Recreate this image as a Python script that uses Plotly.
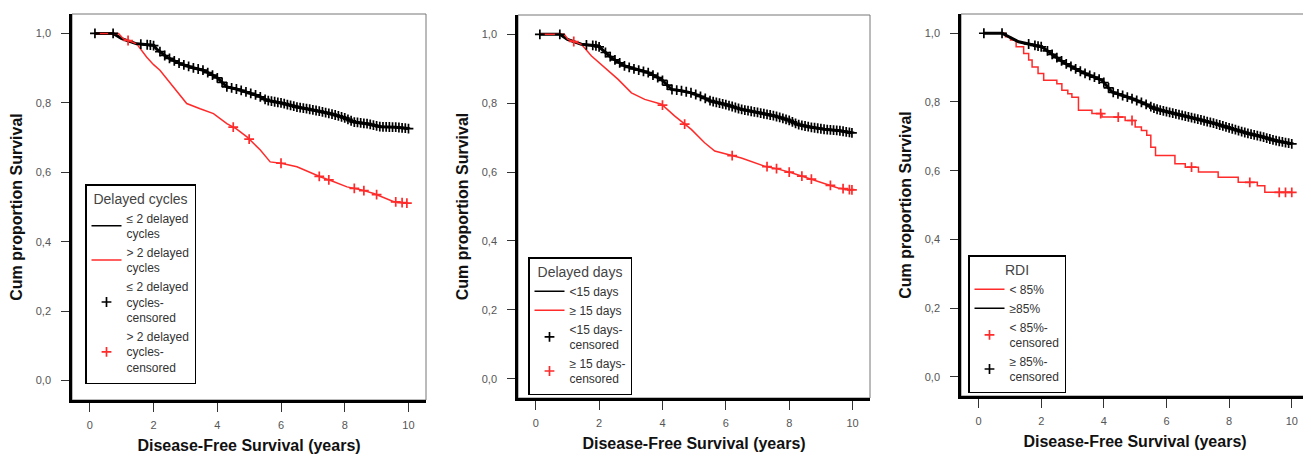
import numpy as np
import plotly.graph_objects as go

# ---------------- Data ----------------
# Panel 1: Delayed cycles
p1_low_t = [0.16, 0.73, 1.0, 1.47, 1.99, 2.1, 2.41, 2.83, 3.2, 3.56, 3.98, 4.30, 4.6, 4.93, 5.3,
            5.56, 6.0, 6.50, 7.0, 7.55, 8.0, 8.28, 8.7, 9.12, 9.6, 10.0]
p1_low_s = [1.0, 1.0, 0.985, 0.970, 0.966, 0.955, 0.932, 0.913, 0.902, 0.894, 0.874, 0.846, 0.840,
            0.831, 0.820, 0.807, 0.800, 0.788, 0.780, 0.769, 0.757, 0.745, 0.740, 0.731, 0.730, 0.726]
p1_high_t = [0.16, 0.9, 1.05, 1.47, 1.78, 2.0, 2.20, 2.62, 3.04, 3.46, 3.88, 4.30, 4.6, 4.93, 5.35,
             5.66, 6.0, 6.50, 7.23, 7.6, 8.07, 8.5, 8.91, 9.54, 10.0]
p1_high_s = [1.0, 1.0, 0.985, 0.970, 0.932, 0.910, 0.894, 0.846, 0.798, 0.783, 0.769, 0.740, 0.725,
             0.702, 0.664, 0.630, 0.626, 0.616, 0.587, 0.575, 0.558, 0.550, 0.539, 0.515, 0.511]
p1_low_cens = [0.16, 0.73, 1.6, 1.8, 1.9, 2.0, 2.2, 2.35, 2.5, 2.65, 2.8, 2.95, 3.1, 3.25, 3.4, 3.55,
               3.7, 3.85, 4.0, 4.15, 4.3, 4.45, 4.6, 4.75, 4.9, 5.05, 5.2, 5.35, 5.5, 5.6, 5.7, 5.8,
               5.9, 6.0, 6.1, 6.2, 6.3, 6.4, 6.5, 6.6, 6.7, 6.8, 6.9, 7.0, 7.1, 7.2, 7.3, 7.4, 7.5,
               7.6, 7.7, 7.8, 7.9, 8.0, 8.1, 8.2, 8.3, 8.4, 8.5, 8.6, 8.7, 8.8, 8.9, 9.0, 9.1, 9.2,
               9.3, 9.4, 9.5, 9.6, 9.7, 9.8, 9.9, 10.0]
p1_high_cens = [1.2, 4.5, 5.0, 6.0, 7.2, 7.5, 8.3, 8.6, 9.0, 9.6, 9.8, 9.95]

# Panel 2: Delayed days
p2_low_t = [0.13, 0.76, 1.0, 1.44, 1.97, 2.1, 2.39, 2.81, 3.2, 3.54, 3.97, 4.28, 4.6, 4.91, 5.2,
            5.54, 6.0, 6.49, 7.0, 7.54, 8.0, 8.27, 8.7, 9.12, 9.6, 9.98]
p2_low_s = [1.0, 1.0, 0.985, 0.971, 0.966, 0.955, 0.932, 0.908, 0.897, 0.889, 0.869, 0.840, 0.836,
            0.830, 0.820, 0.806, 0.796, 0.782, 0.773, 0.763, 0.750, 0.738, 0.730, 0.724, 0.720, 0.714]
p2_high_t = [0.13, 0.9, 1.02, 1.44, 1.76, 2.18, 2.60, 3.02, 3.44, 3.97, 4.38, 4.91, 5.33, 5.65,
             6.0, 6.49, 7.22, 7.6, 8.07, 8.5, 8.91, 9.54, 9.98]
p2_high_s = [1.0, 1.0, 0.985, 0.971, 0.937, 0.903, 0.869, 0.830, 0.811, 0.797, 0.763, 0.724, 0.685,
             0.661, 0.652, 0.641, 0.617, 0.610, 0.598, 0.585, 0.574, 0.554, 0.548]
p2_low_cens = [0.13, 0.76, 1.6, 1.8, 1.9, 2.0, 2.2, 2.35, 2.5, 2.65, 2.8, 2.95, 3.1, 3.25, 3.4, 3.55,
               3.7, 3.85, 4.0, 4.15, 4.3, 4.45, 4.6, 4.75, 4.9, 5.05, 5.2, 5.35, 5.5, 5.6, 5.7, 5.8,
               5.9, 6.0, 6.1, 6.2, 6.3, 6.4, 6.5, 6.6, 6.7, 6.8, 6.9, 7.0, 7.1, 7.2, 7.3, 7.4, 7.5,
               7.6, 7.7, 7.8, 7.9, 8.0, 8.1, 8.2, 8.3, 8.4, 8.5, 8.6, 8.7, 8.8, 8.9, 9.0, 9.1, 9.2,
               9.3, 9.4, 9.5, 9.6, 9.7, 9.8, 9.9, 9.98]
p2_high_cens = [1.2, 4.0, 4.7, 6.2, 7.3, 7.6, 8.0, 8.4, 8.7, 9.3, 9.7, 9.9, 9.98]

# Panel 3: RDI
p3_low_t = [0.17, 0.86, 1.02, 1.2, 1.44, 1.6, 1.71, 1.9, 2.08, 2.5, 2.66, 2.85, 2.98, 3.19, 3.62,
            3.94, 4.68, 5.0, 5.2, 5.37, 5.5, 5.65, 6.27, 6.6, 7.02, 7.65, 8.29, 8.9, 9.14, 10.0]
p3_low_s = [1.0, 0.990, 0.980, 0.961, 0.941, 0.922, 0.902, 0.883, 0.863, 0.853, 0.834, 0.824, 0.814,
            0.776, 0.766, 0.756, 0.746, 0.727, 0.717, 0.703, 0.668, 0.644, 0.620, 0.610, 0.596,
            0.581, 0.566, 0.556, 0.537, 0.537]
p3_high_t = [0.17, 0.75, 1.28, 2.03, 2.4, 2.77, 3.30, 3.94, 4.26, 4.89, 5.3, 5.64, 6.49, 7.0, 7.55,
             8.1, 8.61, 9.0, 9.46, 10.0]
p3_high_s = [1.0, 1.0, 0.975, 0.960, 0.935, 0.912, 0.887, 0.863, 0.829, 0.810, 0.795, 0.780, 0.761,
             0.750, 0.737, 0.722, 0.708, 0.700, 0.688, 0.678]
p3_low_cens = [3.9, 4.46, 4.9, 6.8, 8.66, 9.6, 9.8, 10.0]
p3_high_cens = [0.17, 0.75, 1.6, 1.8, 1.9, 2.0, 2.2, 2.35, 2.5, 2.65, 2.8, 2.95, 3.1, 3.25, 3.4, 3.55,
                3.7, 3.85, 4.0, 4.15, 4.3, 4.45, 4.6, 4.75, 4.9, 5.05, 5.2, 5.35, 5.5, 5.6, 5.7, 5.8,
                5.9, 6.0, 6.1, 6.2, 6.3, 6.4, 6.5, 6.6, 6.7, 6.8, 6.9, 7.0, 7.1, 7.2, 7.3, 7.4, 7.5,
                7.6, 7.7, 7.8, 7.9, 8.0, 8.1, 8.2, 8.3, 8.4, 8.5, 8.6, 8.7, 8.8, 8.9, 9.0, 9.1, 9.2,
                9.3, 9.4, 9.5, 9.6, 9.7, 9.8, 9.9, 10.0]

x_ticks = [0, 2, 4, 6, 8, 10]
y_ticks = [0.0, 0.2, 0.4, 0.6, 0.8, 1.0]

RED = "#ff2a2a"
BLACK = "#000000"
FONT = "Liberation Sans, Arial, sans-serif"

# page has an 8px body margin; work in window pixels and shift
OFF = 8
W, H = 1311 - OFF, 456 - OFF


def on_line(t, s, tc):
    return list(np.interp(tc, t, s))


def on_step(t, s, tc):
    t = np.asarray(t)
    idx = np.searchsorted(t, np.asarray(tc), side="right") - 1
    idx = np.clip(idx, 0, len(s) - 1)
    return [s[i] for i in idx]


fig = go.Figure()

panels = [
    dict(ax="", legend="legend",
         lines=[(p1_low_t, p1_low_s, BLACK, "≤ 2 delayed<br>cycles", "linear"),
                (p1_high_t, p1_high_s, RED, "> 2 delayed<br>cycles", "linear")],
         cens=[(p1_low_t, p1_low_s, p1_low_cens, BLACK, "≤ 2 delayed<br>cycles-<br>censored", "linear"),
               (p1_high_t, p1_high_s, p1_high_cens, RED, "> 2 delayed<br>cycles-<br>censored", "linear")]),
    dict(ax="2", legend="legend2",
         lines=[(p2_low_t, p2_low_s, BLACK, "<15 days", "linear"),
                (p2_high_t, p2_high_s, RED, "≥ 15 days", "linear")],
         cens=[(p2_low_t, p2_low_s, p2_low_cens, BLACK, "<15 days-<br>censored", "linear"),
               (p2_high_t, p2_high_s, p2_high_cens, RED, "≥ 15 days-<br>censored", "linear")]),
    dict(ax="3", legend="legend3",
         lines=[(p3_low_t, p3_low_s, RED, "< 85%", "hv"),
                (p3_high_t, p3_high_s, BLACK, "≥85%", "linear")],
         cens=[(p3_low_t, p3_low_s, p3_low_cens, RED, "< 85%-<br>censored", "hv"),
               (p3_high_t, p3_high_s, p3_high_cens, BLACK, "≥ 85%-<br>censored", "linear")]),
]

for p in panels:
    xa, ya = "x" + p["ax"], "y" + p["ax"]
    for t, s, col, name, shape in p["lines"]:
        if col == BLACK:
            # thick band (dense censor ticks look) drawn without legend entry
            fig.add_trace(go.Scatter(x=t, y=s, mode="lines", showlegend=False, hoverinfo="skip",
                                     line=dict(color=col, width=3.0, shape=shape), xaxis=xa, yaxis=ya))
        fig.add_trace(go.Scatter(x=t, y=s, mode="lines", name=name, line=dict(color=col, width=1.5, shape=shape),
                                 xaxis=xa, yaxis=ya, legend=p["legend"]))
    for t, s, tc, col, name, shape in p["cens"]:
        ys = on_step(t, s, tc) if shape == "hv" else on_line(t, s, tc)
        fig.add_trace(go.Scatter(x=tc, y=ys, mode="markers", name=name,
                                 marker=dict(symbol="cross-thin", size=7, color=col,
                                             line=dict(color=col, width=1.7)),
                                 xaxis=xa, yaxis=ya, legend=p["legend"]))

# Layout geometry (window pixels)
boxes = [(72, 426, 14, 400), (518, 870, 15, 398), (961, 1309, 14, 396)]
legend_pos = [(85, 384), (528, 395), (968, 393)]
legend_titles = ["Delayed cycles", "Delayed days", "RDI"]


def px(x):
    return (x - OFF) / W


def py(y):
    return 1 - (y - OFF) / H


layout = dict(
    width=W, height=H, margin=dict(l=0, r=0, t=0, b=0),
    paper_bgcolor="white", plot_bgcolor="white",
    separators=",.",
    font=dict(family=FONT, color="#222"),
    showlegend=True,
)
shapes = []
for i, (l, r, t, b) in enumerate(boxes):
    sfx = "" if i == 0 else str(i + 1)
    layout["xaxis" + sfx] = dict(
        domain=[px(l), px(r)], range=[-0.56, 10.55], tickvals=x_ticks, ticks="outside", ticklen=9,
        tickwidth=1.2, tickcolor="#333", showline=True, linewidth=2.5, linecolor="black",
        showgrid=False, zeroline=False, anchor="y" + sfx, automargin=False,
        tickfont=dict(size=11, color="#555"), ticklabelstandoff=4,
        title=dict(text="<b>Disease-Free Survival (years)</b>", font=dict(size=16, color="#111"), standoff=10),
    )
    layout["yaxis" + sfx] = dict(
        domain=[py(b), py(t)], range=[-0.056, 1.056], tickvals=y_ticks, tickformat=".1f",
        ticks="outside", ticklen=8, tickwidth=1.2, tickcolor="#333", showline=True, linewidth=2.5,
        linecolor="black", showgrid=False, zeroline=False, anchor="x" + sfx, automargin=False,
        tickfont=dict(size=11, color="#555"), ticklabelstandoff=8,
        title=dict(text="<b>Cum proportion Survival</b>", font=dict(size=16, color="#111"), standoff=10),
    )
    shapes.append(dict(type="rect", xref=f"x{sfx} domain", yref=f"y{sfx} domain", x0=0, x1=1, y0=0, y1=1,
                       line=dict(color="#777", width=1), layer="below"))
    lx, lb = legend_pos[i]
    layout["legend" + ("" if i == 0 else str(i + 1))] = dict(
        x=px(lx), y=py(lb), xanchor="left", yanchor="bottom",
        bgcolor="white", bordercolor="black", borderwidth=1.5,
        font=dict(size=12, color="#333", family=FONT),
        title=dict(text=legend_titles[i], side="top center", font=dict(size=14, color="#444")),
        itemwidth=30, tracegroupgap=0,
    )
layout["shapes"] = shapes
fig.update_layout(**layout)

fig.write_html("out.html")
